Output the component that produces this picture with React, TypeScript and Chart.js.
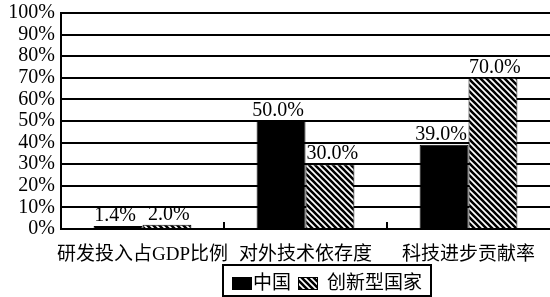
import React, { useEffect, useRef } from "react";
import { Chart, registerables } from "chart.js";

Chart.register(...registerables);

const categories = ["研发投入占GDP比例", "对外技术依存度", "科技进步贡献率"];
const seriesNames = ["中国", "创新型国家"];
const chinaValues = [1.4, 50.0, 39.0];
const innovativeValues = [2.0, 30.0, 70.0];
const yTickValues = [0, 10, 20, 30, 40, 50, 60, 70, 80, 90, 100];

const FONT_FAMILY = "'Liberation Serif', 'Noto Sans CJK SC', serif";

function makeHatch(): CanvasPattern | string {
  const size = 6;
  const c = document.createElement("canvas");
  c.width = size;
  c.height = size;
  const g = c.getContext("2d");
  if (!g) return "#777";
  g.fillStyle = "#ffffff";
  g.fillRect(0, 0, size, size);
  g.strokeStyle = "#000000";
  g.lineWidth = 2.6;
  g.beginPath();
  for (const k of [-size, 0, size]) {
    g.moveTo(-2, -2 + k);
    g.lineTo(size + 2, size + 2 + k);
  }
  g.stroke();
  const p = g.createPattern(c, "repeat");
  return p || "#777";
}

const valueLabelPlugin = {
  id: "valueLabels",
  afterDatasetsDraw(chart: any) {
    const ctx = chart.ctx;
    ctx.save();
    ctx.font = `20px ${FONT_FAMILY}`;
    ctx.fillStyle = "#000";
    ctx.textAlign = "left";
    ctx.textBaseline = "alphabetic";
    const shift = [-3, 2];
    const m0 = chart.getDatasetMeta(0);
    chart.data.datasets.forEach((ds: any, i: number) => {
      const meta = chart.getDatasetMeta(i);
      meta.data.forEach((bar: any, j: number) => {
        const v = ds.data[j] as number;
        const text = v.toFixed(1) + "%";
        const w = ctx.measureText(text).width;
        let left = bar.x + (shift[i] ?? 0) - w / 2;
        const baseY = bar.y - 5;
        if (i === 1) {
          const prev = m0.data[j];
          if (prev && prev.y < baseY) {
            const prevRight = prev.x + prev.width / 2;
            if (left < prevRight + 1) left = prevRight + 1;
          }
        }
        ctx.fillText(text, left, baseY);
      });
    });
    ctx.restore();
  },
};

const categoryTickPlugin = {
  id: "categoryTicks",
  afterDraw(chart: any) {
    const ctx = chart.ctx;
    const x = chart.scales.x;
    const bottom = chart.chartArea.bottom;
    ctx.save();
    ctx.strokeStyle = "#000";
    ctx.lineWidth = 2;
    for (let i = 0; i < categories.length - 1; i++) {
      const px = (x.getPixelForValue(i) + x.getPixelForValue(i + 1)) / 2;
      ctx.beginPath();
      ctx.moveTo(px, bottom);
      ctx.lineTo(px, bottom - 7);
      ctx.stroke();
    }
    ctx.restore();
  },
};

const boxLegendPlugin = {
  id: "boxLegend",
  afterDraw(chart: any) {
    const ctx = chart.ctx;
    const datasets = chart.data.datasets;
    const left = 223;
    const top = 265;
    const height = 31;
    const midY = 284;
    ctx.save();
    ctx.font = `19px ${FONT_FAMILY}`;
    ctx.textBaseline = "middle";
    ctx.textAlign = "left";
    let x = left + 9;
    const swatchW = 20;
    const gapBeforeText = [1, 9];
    datasets.forEach((ds: any, i: number) => {
      ctx.fillStyle = ds.backgroundColor;
      ctx.fillRect(x, midY - 7, swatchW, 13);
      ctx.strokeStyle = "#000";
      ctx.lineWidth = 1;
      ctx.strokeRect(x + 0.5, midY - 6.5, swatchW - 1, 12);
      x += swatchW + (gapBeforeText[i] ?? 5);
      ctx.fillStyle = "#000";
      ctx.fillText(ds.label, x, midY);
      x += ctx.measureText(ds.label).width + 7;
    });
    const right = x + 2;
    ctx.strokeStyle = "#000";
    ctx.lineWidth = 2;
    ctx.strokeRect(left, top, right - left, height);
    ctx.restore();
  },
};

export default function App() {
  const canvasRef = useRef<HTMLCanvasElement | null>(null);

  useEffect(() => {
    if (!canvasRef.current) return;
    document.body.style.margin = "0";
    const hatch = makeHatch();
    const chart = new Chart(canvasRef.current, {
      type: "bar",
      data: {
        labels: categories,
        datasets: [
          {
            label: seriesNames[0],
            data: chinaValues,
            backgroundColor: "#000000",
            borderColor: "#000000",
            borderWidth: 1,
          },
          {
            label: seriesNames[1],
            data: innovativeValues,
            backgroundColor: hatch as any,
            borderColor: "#000000",
            borderWidth: 1,
          },
        ],
      },
      options: {
        responsive: false,
        animation: false,
        layout: { padding: { top: 13, left: 0, right: 0, bottom: 28 } },
        datasets: {
          bar: { categoryPercentage: 0.6, barPercentage: 1.0 },
        },
        plugins: {
          legend: { display: false },
          tooltip: { enabled: false },
        },
        scales: {
          x: {
            grid: { display: false },
            border: { display: true, color: "#000", width: 2 },
            ticks: {
              color: "#000",
              padding: 7,
              font: { size: 19, family: FONT_FAMILY },
              maxRotation: 0,
              autoSkip: false,
            },
            afterFit: (scale: any) => {
              scale.height = 40;
            },
          },
          y: {
            min: 0,
            max: 100,
            afterBuildTicks: (scale: any) => {
              scale.ticks = yTickValues.map((v) => ({ value: v }));
            },
            grid: { color: "#000", lineWidth: 2, drawTicks: false },
            border: { display: true, color: "#000", width: 2 },
            ticks: {
              color: "#000",
              padding: 6,
              autoSkip: false,
              font: { size: 20, family: FONT_FAMILY },
              callback: (v: any) => `${v}%`,
            },
            afterFit: (scale: any) => {
              scale.width = 61;
              scale.paddingTop = 0;
              scale.paddingBottom = 0;
            },
          },
        },
      },
      plugins: [valueLabelPlugin, categoryTickPlugin, boxLegendPlugin],
    });
    return () => chart.destroy();
  }, []);

  return (
    <div style={{ position: "fixed", left: 0, top: 0, width: 550, height: 297, background: "#fff" }}>
      <canvas ref={canvasRef} width={550} height={297} style={{ display: "block" }} />
    </div>
  );
}
